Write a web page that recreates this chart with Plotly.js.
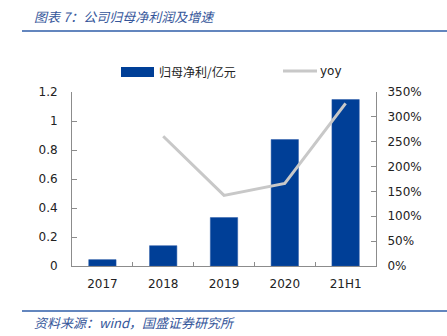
<!DOCTYPE html>
<html><head><meta charset="utf-8">
<script src="https://cdn.plot.ly/plotly-3.0.1.min.js"></script>
<style>html,body{margin:0;padding:0;background:#fff;}#c{width:447px;height:336px;}</style>
</head><body><div id="c"></div>
<script>
const categories = ['2017', '2018', '2019', '2020', '21H1'];
const profit = [0.044, 0.14, 0.334, 0.872, 1.148];
const yoy = [null, 2.61, 1.42, 1.66, 3.27];
const leftTicks = [0, 0.2, 0.4, 0.6, 0.8, 1, 1.2];
const rightTicks = [0, 0.5, 1, 1.5, 2, 2.5, 3, 3.5];

const font = 'DejaVu Sans, Verdana, sans-serif';
const cjk = 'Noto Sans CJK SC, sans-serif';
const axisCol = '#8c8c8c';

const traces = [
  {type: 'bar', x: categories, y: profit, name: '归母净利/亿元', marker: {color: '#003f97', line: {color: '#2a5aa8', width: 0.5}}, showlegend: false, hoverinfo: 'none'},
  {type: 'scatter', mode: 'lines', x: categories, y: yoy, yaxis: 'y2', name: 'yoy', line: {color: '#c8c8c8', width: 3}, showlegend: false, connectgaps: false, hoverinfo: 'none'}
];

const layout = {
  width: 447, height: 336,
  margin: {l: 72, r: 71, t: 92, b: 70},
  paper_bgcolor: '#fff', plot_bgcolor: '#fff',
  bargap: 0.55,
  font: {family: font, size: 12, color: '#222'},
  xaxis: {type: 'category', showline: true, linecolor: axisCol, linewidth: 1, ticks: 'inside', tickson: 'boundaries', ticklen: 4, tickcolor: axisCol, showgrid: false, zeroline: false, ticklabelstandoff: 7, tickfont: {family: font, size: 12, color: '#222'}},
  yaxis: {range: [0, 1.2], tickvals: leftTicks, showline: true, linecolor: axisCol, ticks: 'inside', ticklen: 5, tickcolor: axisCol, showgrid: false, zeroline: false, ticklabelstandoff: 11, tickfont: {family: font, size: 12, color: '#222'}},
  yaxis2: {range: [0, 3.5], tickvals: rightTicks, tickformat: '.0%', overlaying: 'y', side: 'right', showline: true, linecolor: axisCol, ticks: 'inside', ticklen: 5, tickcolor: axisCol, showgrid: false, zeroline: false, ticklabelstandoff: 8, tickfont: {family: font, size: 12, color: '#222'}},
  shapes: [
    {type: 'line', xref: 'paper', yref: 'paper', x0: -50/304, x1: 418/304, y0: (336-70-31)/174, y1: (336-70-31)/174, line: {color: '#2f5ea8', width: 1.5}},
    {type: 'line', xref: 'paper', yref: 'paper', x0: -50/304, x1: 418/304, y0: (336-70-311)/174, y1: (336-70-311)/174, line: {color: '#2f5ea8', width: 1.5}},
    {type: 'rect', xref: 'paper', yref: 'paper', x0: (121-72)/304, x1: (154-72)/304, y0: (266-77)/174, y1: (266-67)/174, fillcolor: '#003f97', line: {width: 0}},
    {type: 'line', xref: 'paper', yref: 'paper', x0: (283-72)/304, x1: (317-72)/304, y0: (266-71)/174, y1: (266-71)/174, line: {color: '#c8c8c8', width: 3}}
  ],
  annotations: [
    {xref: 'paper', yref: 'paper', x: (32-72)/304, y: (266-17)/174, xanchor: 'left', yanchor: 'middle', showarrow: false, text: '<i>图表 7：公司归母净利润及增速</i>', font: {family: cjk, size: 13, color: '#35569a'}},
    {xref: 'paper', yref: 'paper', x: (32-72)/304, y: (266-322)/174, xanchor: 'left', yanchor: 'middle', showarrow: false, text: '<i>资料来源：wind，国盛证券研究所</i>', font: {family: cjk, size: 13, color: '#35569a'}},
    {xref: 'paper', yref: 'paper', x: (157-72)/304, y: (266-71)/174, xanchor: 'left', yanchor: 'middle', showarrow: false, text: '归母净利/亿元', font: {family: cjk, size: 12, color: '#222'}},
    {xref: 'paper', yref: 'paper', x: (318-72)/304, y: (266-71)/174, xanchor: 'left', yanchor: 'middle', showarrow: false, text: 'yoy', font: {family: font, size: 12, color: '#222'}}
  ]
};

Plotly.newPlot('c', traces, layout, {staticPlot: true, displayModeBar: false});
</script></body></html>
